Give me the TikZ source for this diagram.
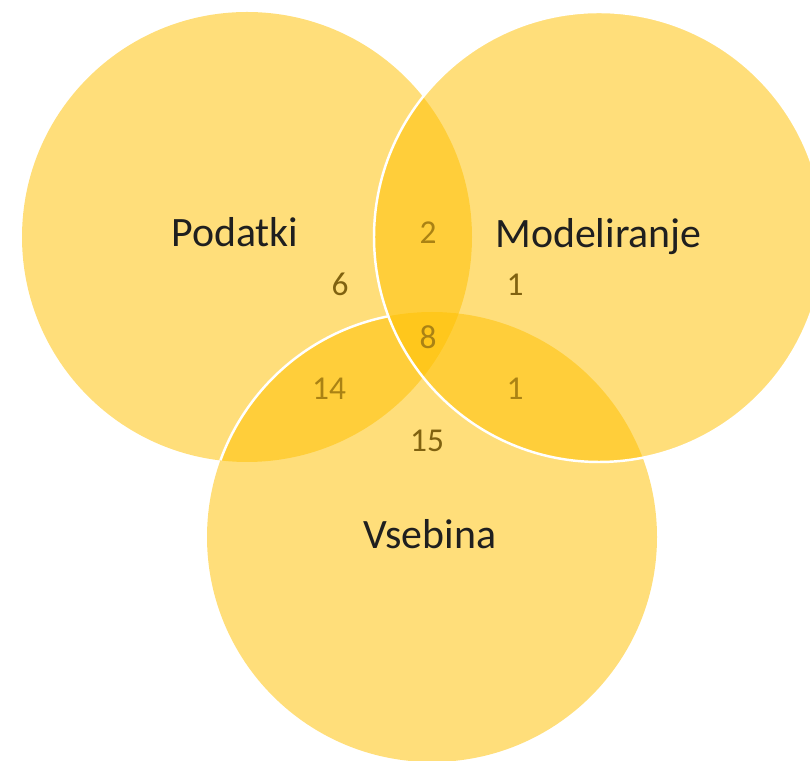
\documentclass[tikz,border=0pt]{standalone}
\usepackage{fontspec}
\setmainfont{Carlito}
\definecolor{setgold}{RGB}{255,192,0}
\definecolor{numdark}{RGB}{128,98,16}
\definecolor{numlight}{RGB}{170,130,20}
\begin{document}
\begin{tikzpicture}[set/.style={fill=setgold, fill opacity=0.52},
    edge/.style={draw=white, line width=1.4pt},
    lbl/.style={font=\fontsize{23.8}{28}\selectfont, text=black!88, anchor=base},
    num/.style={font=\fontsize{19}{23}\selectfont, anchor=base}]
  \clip (0,0) rectangle (16.2,15.22);
  \coordinate (P) at (4.94,10.48);
  \coordinate (M) at (11.98,10.48);
  \coordinate (V) at (8.64,4.48);

  \fill[set] (P) circle (4.5);
  \fill[set] (V) circle (4.5);
  \begin{scope}
    \clip (P) circle (4.5);
    \draw[edge] (V) ++(101.3:4.5) arc[start angle=101.3, end angle=185, radius=4.5];
  \end{scope}
  \fill[set] (M) circle (4.5);
  \draw[edge] (M) circle (4.5);

  \node[lbl] (podatki) at (4.70,10.28) {Podatki};
  \node[lbl] (modeliranje) at (11.97,10.26) {Modeliranje};
  \node[lbl] (vsebina) at (8.60,4.24) {Vsebina};

  \node[num, numdark] (p) at (6.80,9.30) {6};
  \node[num, numdark] (m) at (10.30,9.30) {1};
  \node[num, numdark] (v) at (8.54,6.18) {15};
  \node[num, numlight] (pm) at (8.56,10.34) {2};
  \node[num, numlight] (pmv) at (8.56,8.24) {8};
  \node[num, numlight] (pv) at (6.58,7.22) {14};
  \node[num, numlight] (mv) at (10.30,7.22) {1};
\end{tikzpicture}
\end{document}
